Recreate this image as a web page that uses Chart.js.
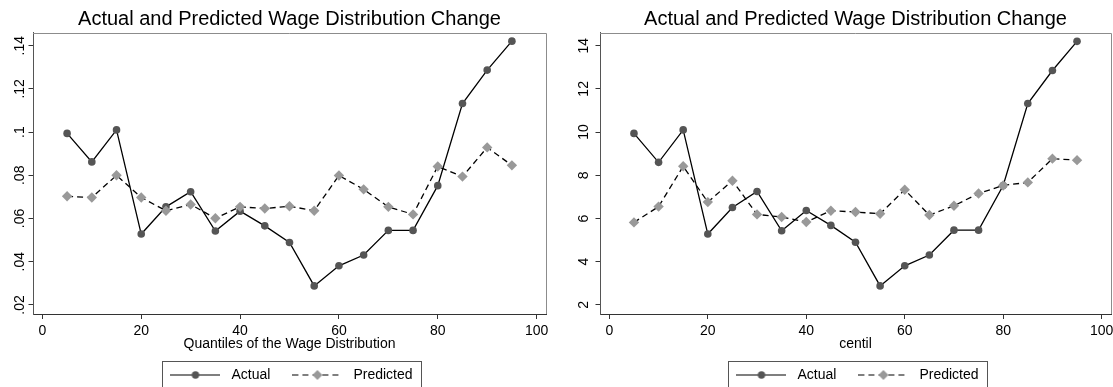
<!DOCTYPE html>
<html>
<head>
<meta charset="utf-8">
<script src="https://cdn.jsdelivr.net/npm/chart.js@4.4.1/dist/chart.umd.min.js"></script>
<style>
  body { margin: 0; background: #fff; overflow: hidden; width: 1113px; height: 387px; position: relative; }
  canvas { position: absolute; top: 0; }
</style>
</head>
<body>
<canvas id="left" width="579" height="400" style="left:0"></canvas>
<canvas id="right" width="599" height="400" style="left:556px"></canvas>
<script>
let quantiles = [5, 10, 15, 20, 25, 30, 35, 40, 45, 50, 55, 60, 65, 70, 75, 80, 85, 90, 95]

// left panel: share change
let actualShare = [.0994, .0862, .1010, .0528, .0654, .0724, .0542, .0634, .0566, .0489, .0288, .0381, .0431, .0545, .0545, .0752, .1132, .1287, .1421]
let predictedShare = [.0703, .0697, .0800, .0697, .0636, .0665, .0601, .0654, .0646, .0657, .0636, .0799, .0735, .0654, .0619, .0841, .0794, .0929, .0846]

// right panel: centil
let actualCentil = [9.94, 8.60, 10.10, 5.28, 6.51, 7.25, 5.43, 6.37, 5.68, 4.90, 2.88, 3.81, 4.31, 5.46, 5.46, 7.53, 11.32, 12.85, 14.20]
let predictedCentil = [5.82, 6.55, 8.42, 6.76, 7.75, 6.19, 6.07, 5.84, 6.36, 6.30, 6.22, 7.33, 6.16, 6.59, 7.16, 7.53, 7.67, 8.77, 8.70]

let xTicks = [0, 20, 40, 60, 80, 100]
let shareTicks = [.02, .04, .06, .08, .10, .12, .14]
let centilTicks = [2, 4, 6, 8, 10, 12, 14]

Chart.defaults.font.family = '"Liberation Sans", Arial, sans-serif'
Chart.defaults.color = '#000'

function makeIcon(dashed, shape, color) {
  let c = document.createElement('canvas')
  c.width = 50
  c.height = 12
  let g = c.getContext('2d')
  g.strokeStyle = '#000'
  g.lineWidth = 1.2
  if (dashed) g.setLineDash([6, 4])
  g.beginPath()
  g.moveTo(0, 6)
  g.lineTo(50, 6)
  g.stroke()
  g.fillStyle = color
  g.beginPath()
  if (shape == 'circle') {
    g.arc(25, 6, 3.7, 0, Math.PI * 2)
  } else {
    g.moveTo(25, 1); g.lineTo(30, 6); g.lineTo(25, 11); g.lineTo(20, 6); g.closePath()
  }
  g.fill()
  return c
}

let icons = [makeIcon(false, 'circle', '#555'), makeIcon(true, 'diamond', '#999')]

// top and right edge of the plot region, and box round the legend
let framePlugin = {
  id: 'frame',
  afterDraw(chart) {
    let ctx = chart.ctx
    let a = chart.chartArea
    ctx.save()
    ctx.lineWidth = 1
    ctx.strokeStyle = '#8c8c8c'
    ctx.beginPath()
    ctx.moveTo(Math.round(a.left), Math.round(a.top) + .5)
    ctx.lineTo(Math.round(a.right) + .5, Math.round(a.top) + .5)
    ctx.lineTo(Math.round(a.right) + .5, Math.round(a.bottom))
    ctx.stroke()
    let hb = chart.legend.legendHitBoxes
    let l = hb[0].left - 4
    let r = hb[hb.length - 1].left + hb[hb.length - 1].width + 9
    let t = hb[0].top - 7
    ctx.strokeStyle = '#555'
    ctx.strokeRect(Math.round(l) + .5, Math.round(t) + .5, Math.round(r - l), 40)
    ctx.restore()
  }
}

function toPoints(values) {
  return quantiles.map((q, i) => ({x: q, y: values[i]}))
}

function createPanel(id, actual, predicted, o) {
  return new Chart(document.getElementById(id).getContext('2d'), {
    type: 'line',
    data: {
      datasets: [{
        label: 'Actual',
        data: toPoints(actual),
        borderColor: '#000',
        borderWidth: 1.3,
        pointStyle: 'circle',
        pointRadius: 3.8,
        pointBackgroundColor: '#555',
        pointBorderWidth: 0,
        order: 1
      }, {
        label: 'Predicted',
        data: toPoints(predicted),
        borderColor: '#000',
        borderWidth: 1.3,
        borderDash: [6, 4],
        pointStyle: 'rectRot',
        pointRadius: 5.2,
        pointBackgroundColor: '#999',
        pointBorderWidth: 0,
        order: 0
      }]
    },
    options: {
      responsive: false,
      animation: false,
      layout: { padding: { left: 0, right: o.padRight, top: 0, bottom: 8 } },
      plugins: {
        tooltip: { enabled: false },
        title: {
          display: true,
          fullSize: false,
          text: 'Actual and Predicted Wage Distribution Change',
          color: '#000',
          font: { size: 20, weight: 'normal' },
          padding: { top: 7.5, bottom: 1.2 }
        },
        legend: {
          position: 'bottom',
          fullSize: false,
          labels: {
            usePointStyle: true,
            pointStyleWidth: 58,
            padding: 18,
            color: '#000',
            font: { size: 14 },
            generateLabels: chart => chart.data.datasets.map((ds, i) => ({
              text: ds.label,
              pointStyle: icons[i],
              datasetIndex: i,
              fontColor: '#000',
              lineWidth: 0,
              strokeStyle: 'rgba(0,0,0,0)',
              fillStyle: 'rgba(0,0,0,0)',
              hidden: false
            }))
          }
        }
      },
      scales: {
        x: {
          type: 'linear',
          min: -1.9,
          max: 101.9,
          afterBuildTicks: s => { s.ticks = xTicks.map(v => ({value: v})) },
          afterFit: s => { s.height = 36 },
          grid: { drawOnChartArea: false, tickLength: 5, color: '#333' },
          border: { display: true, color: '#333' },
          ticks: { color: '#000', font: { size: 14 }, padding: 4, maxRotation: 0, autoSkip: false },
          title: { display: true, text: o.xTitle, color: '#000', font: { size: 14 }, padding: { top: 0, bottom: -3 } }
        },
        y: {
          type: 'linear',
          min: o.yMin,
          max: o.yMax,
          afterBuildTicks: s => { s.ticks = o.yTicks.map(v => ({value: v})) },
          afterFit: s => { s.width = o.yWidth },
          grid: { drawOnChartArea: false, tickLength: 4.5, color: '#333' },
          border: { display: true, color: '#555' },
          ticks: {
            color: '#000',
            font: { size: 14 },
            minRotation: 90,
            maxRotation: 90,
            crossAlign: 'center',
            padding: o.yPad,
            autoSkip: false,
            callback: o.yFormat
          }
        }
      }
    },
    plugins: [framePlugin]
  })
}

createPanel('left', actualShare, predictedShare, {
  xTitle: 'Quantiles of the Wage Distribution',
  yTicks: shareTicks,
  yMin: .0158,
  yMax: .146,
  yWidth: 33,
  yPad: -1.5,
  padRight: 33,
  yFormat: v => v.toFixed(2).replace(/^0/, '').replace(/0$/, '')
})

createPanel('right', actualCentil, predictedCentil, {
  xTitle: 'centil',
  yTicks: centilTicks,
  yMin: 1.58,
  yMax: 14.6,
  yWidth: 44,
  yPad: 4,
  padRight: 44,
  yFormat: v => String(v)
})
</script>
</body>
</html>
